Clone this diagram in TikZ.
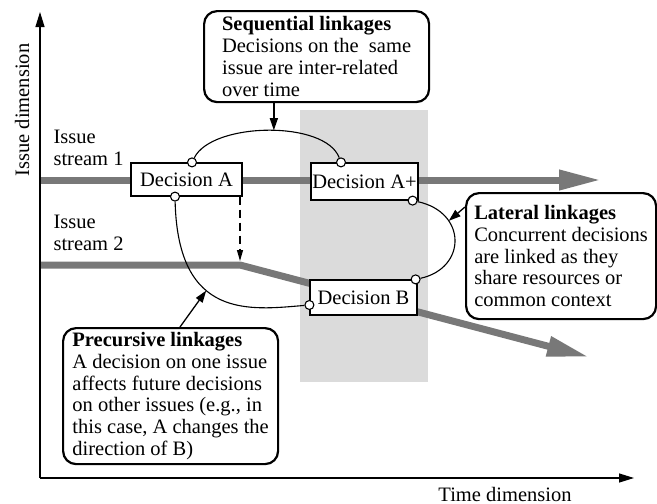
\documentclass[tikz,border=0pt]{standalone}
\usepackage{fontspec}
\setmainfont{Liberation Serif}
\usepackage{tikz}
\usetikzlibrary{arrows.meta, positioning, calc}
\definecolor{bandgray}{gray}{0.47}
\definecolor{shadegray}{gray}{0.86}
\tikzset{
  txt/.style={font=\fontsize{20.5}{21.8}\selectfont},
  decbox/.style={txt, rectangle, draw, line width=1.2pt, fill=white,
    inner sep=0pt, text centered},
  callout/.style={txt, rectangle, rounded corners=13pt, draw, line width=2.2pt,
    fill=white, align=left, anchor=north west, inner xsep=4pt, inner ysep=2pt},
  knob/.style={circle, draw, fill=white, line width=1.1pt, inner sep=0pt,
    minimum size=9pt},
  band/.style={line width=7pt, color=bandgray,
    -{Triangle[length=42pt, width=19pt]}},
  axis/.style={line width=1.2pt, -{Triangle[length=15pt, width=9pt]}},
  link/.style={line width=1.1pt},
  callarrow/.style={line width=1.3pt, -{Triangle[length=12pt, width=8pt]}},
  dasharrow/.style={line width=1.2pt, dash pattern=on 8pt off 5pt,
    -{Triangle[length=11pt, width=6pt]}},
}
\begin{document}
\begin{tikzpicture}[x=1pt, y=-1pt]
  \useasboundingbox (0,0) rectangle (657,504);

  \fill[shadegray] (300,110) rectangle (428,382);

  \coordinate (origin) at (40,478);
  \coordinate (ytop) at (40,12);
  \coordinate (xend) at (634,478);
  \draw[axis] (origin) -- (ytop);
  \draw[axis] (origin) -- (xend);
  \node[txt, rotate=90] (ylab) at (22,110) {Issue dimension};
  \node[txt] (xlab) at (505,494) {Time dimension};

  \node[txt, align=left, anchor=base west] (s1lab) at (50,165) {Issue\\stream 1};
  \node[txt, align=left, anchor=base west] (s2lab) at (50,250) {Issue\\stream 2};

  \coordinate (s1start) at (41,180);
  \coordinate (s1end) at (601,180);
  \coordinate (s2start) at (41,265);
  \coordinate (bend) at (240,265);
  \coordinate (s2end) at (589,357);
  \draw[band] (s1start) -- (s1end);
  \draw[band, miter limit=4] (s2start) -- (bend) -- (s2end);

  \node[decbox, minimum width=111pt, minimum height=33pt]
    (decA) at (186.5,179.5) {Decision A};
  \node[decbox, minimum width=107pt, minimum height=37pt]
    (decAp) at (364.5,181.5) {Decision A+};
  \node[decbox, minimum width=107pt, minimum height=35pt]
    (decB) at (363.5,297.5) {Decision B};

  \draw[dasharrow] (decA.south -| bend) -- ([yshift=4pt]bend);

  \node[knob] (a1) at ([xshift=5.5pt]decA.north) {};
  \node[knob] (a2) at ([xshift=-11.5pt]decA.south) {};
  \node[knob] (ap1) at ([xshift=-23.5pt]decAp.north) {};
  \node[knob] (ap2) at ([xshift=-6pt]decAp.south east) {};
  \node[knob] (b1) at ([yshift=-7.5pt]decB.west) {};
  \node[knob] (b2) at ([xshift=-2pt]decB.north east) {};

  \draw[link] (a1) .. controls (212,122) and (325,120) .. coordinate[pos=0.53] (seqpk) (ap1);
  \draw[link] (a2) .. controls (178,320) and (250,310) .. coordinate[pos=0.4] (prepk) (b1);
  \draw[link] (ap2) .. controls (467,212) and (467,268) .. coordinate[pos=0.3] (latpk) (b2);

  \node[callout, minimum width=225pt, minimum height=91pt] (seq) at (203,10)
    {\textbf{Sequential linkages}\\Decisions on the\ \ same\\issue are inter-related\\over time};
  \node[callout, minimum width=215pt, minimum height=136pt] (prec) at (62,327)
    {\textbf{Precursive linkages}\\A decision on one issue\\affects future decisions\\on other issues (e.g., in\\this case, A changes the\\direction of B)};
  \node[callout, minimum width=190pt, minimum height=126pt] (lat) at (465,192)
    {\textbf{Lateral linkages}\\Concurrent decisions\\are linked as they\\share resources or\\common context};

  \draw[callarrow] (seqpk |- seq.south) -- (seqpk);
  \draw[callarrow] ([xshift=118pt]prec.north west) -- (prepk);
  \draw[callarrow] ([yshift=-15pt]lat.north west) -- (latpk);
\end{tikzpicture}
\end{document}
